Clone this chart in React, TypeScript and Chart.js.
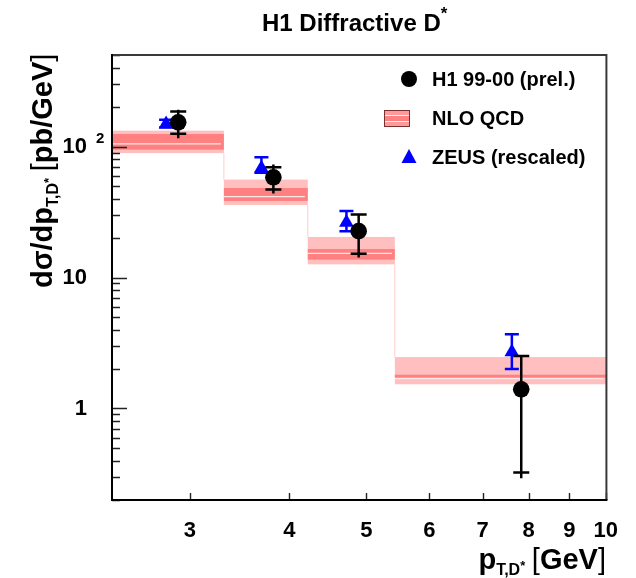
import React, { useEffect, useRef } from 'react';
import { Chart, registerables } from 'chart.js';

Chart.register(...registerables);

// ---------- axis ranges & ticks ----------
const X_MIN = 2.394;
const X_MAX = 10.02;
const Y_MIN = 0.2;
const Y_MAX = 500;
const X_TICKS = [3, 4, 5, 6, 7, 8, 9, 10];
const X_TICK_LABELS = ['3', '4', '5', '6', '7', '8', '9', '10'];
const Y_MAJOR = [1, 10, 100];
const Y_MAJOR_LABELS = ['1', '10', '10'];
const Y_MINOR = [0.2, 0.3, 0.4, 0.5, 0.6, 0.7, 0.8, 0.9, 2, 3, 4, 5, 6, 7, 8, 9, 20, 30, 40, 50, 60, 70, 80, 90, 200, 300, 400, 500];

// ---------- H1 99-00 (prel.) ----------
const H1_X = [2.90, 3.82, 4.89, 7.83];
const H1_Y = [153, 58.2, 22.6, 1.40];
const H1_STAT_HI = [185, 69.4, 30.3, 2.52];
const H1_STAT_LO = [125, 46.9, 15.2, 0.325];
const H1_TOT_HI = [191, 72.8, 30.8, 2.52];
const H1_TOT_LO = [115.5, 43.8, 14.2, 0.293];

// ---------- ZEUS (rescaled) ----------
const ZEUS_X = [2.80, 3.69, 4.72, 7.62];
const ZEUS_Y = [148.7, 68.4, 26.3, 2.70];
const ZEUS_HI = [160, 83.0, 32.2, 3.68];
const ZEUS_LO = [140, 63.2, 22.6, 2.00];

// ---------- NLO QCD band ----------
const NLO_EDGES = [2.0, 3.31, 4.22, 5.43, 10.02];
const NLO_OUT_HI = [132.2, 55.9, 20.4, 2.47];
const NLO_OUT_LO = [89.1, 35.8, 12.6, 1.53];
const NLO_IN_HI = [124.7, 48.2, 16.5, 1.81];
const NLO_IN_LO = [94.7, 38.4, 13.7, 1.72];
const NLO_CENTRAL = [104.7, 41.5, 15.3, 1.69];

const LEGEND_LABELS = ['H1 99-00 (prel.)', 'NLO QCD', 'ZEUS (rescaled)'];

const FONT = '"Liberation Sans", Arial, Helvetica, sans-serif';
const LIGHT = '#ffbfbf';
const DARK = '#ff8080';
const BLUE = '#0000ff';

type Run = { t: string; size: number; bold?: boolean; dy?: number };

function runsWidth(ctx: CanvasRenderingContext2D, runs: Run[]) {
  let w = 0;
  for (const r of runs) {
    ctx.font = `${r.bold === false ? '' : 'bold '}${r.size}px ${FONT}`;
    w += ctx.measureText(r.t).width;
  }
  return w;
}

function drawRuns(ctx: CanvasRenderingContext2D, runs: Run[], x: number, y: number) {
  let cx = x;
  ctx.textAlign = 'left';
  ctx.textBaseline = 'alphabetic';
  for (const r of runs) {
    ctx.font = `${r.bold === false ? '' : 'bold '}${r.size}px ${FONT}`;
    ctx.fillText(r.t, cx, y + (r.dy || 0));
    cx += ctx.measureText(r.t).width;
  }
}

const customPlugin = {
  id: 'h1custom',
  beforeDatasetsDraw(chart: any) {
    const { ctx, chartArea: ca, scales } = chart;
    const x = scales.x;
    const y = scales.y;
    ctx.save();
    ctx.beginPath();
    ctx.rect(ca.left, ca.top, ca.right - ca.left, ca.bottom - ca.top);
    ctx.clip();
    for (let i = 0; i < NLO_CENTRAL.length; i++) {
      const x0 = x.getPixelForValue(NLO_EDGES[i]);
      const x1 = x.getPixelForValue(NLO_EDGES[i + 1]);
      const oh = y.getPixelForValue(NLO_OUT_HI[i]);
      const ol = y.getPixelForValue(NLO_OUT_LO[i]);
      const ih = y.getPixelForValue(NLO_IN_HI[i]);
      const il = y.getPixelForValue(NLO_IN_LO[i]);
      const c = y.getPixelForValue(NLO_CENTRAL[i]);
      ctx.fillStyle = LIGHT;
      ctx.fillRect(x0, oh, x1 - x0, ol - oh);
      ctx.fillStyle = DARK;
      ctx.fillRect(x0, ih, x1 - x0, il - ih);
      ctx.strokeStyle = '#ffe8e8';
      ctx.lineWidth = 1.2;
      ctx.beginPath();
      ctx.moveTo(x0, c);
      ctx.lineTo(x1 - 3, c);
      ctx.stroke();
      if (i < NLO_CENTRAL.length - 1) {
        const nh = y.getPixelForValue(NLO_OUT_HI[i + 1]);
        ctx.strokeStyle = '#ffcccc';
        ctx.lineWidth = 1;
        ctx.beginPath();
        ctx.moveTo(x1, ol);
        ctx.lineTo(x1, nh);
        ctx.stroke();
      }
    }
    ctx.restore();
  },
  beforeDatasetDraw(chart: any, args: any) {
    const { ctx, scales } = chart;
    const x = scales.x;
    const y = scales.y;
    ctx.save();
    ctx.lineWidth = 2.5;
    ctx.lineCap = 'butt';
    if (args.index === 0) {
      ctx.strokeStyle = '#000';
      for (let i = 0; i < H1_X.length; i++) {
        const px = x.getPixelForValue(H1_X[i]);
        ctx.beginPath();
        ctx.moveTo(px, y.getPixelForValue(H1_TOT_HI[i]));
        ctx.lineTo(px, y.getPixelForValue(H1_TOT_LO[i]));
        for (const v of [H1_STAT_HI[i], H1_STAT_LO[i]]) {
          const py = y.getPixelForValue(v);
          ctx.moveTo(px - 8, py);
          ctx.lineTo(px + 8, py);
        }
        ctx.stroke();
      }
    } else {
      ctx.strokeStyle = BLUE;
      for (let i = 0; i < ZEUS_X.length; i++) {
        const px = x.getPixelForValue(ZEUS_X[i]);
        const ph = y.getPixelForValue(ZEUS_HI[i]);
        const pl = y.getPixelForValue(ZEUS_LO[i]);
        ctx.beginPath();
        ctx.moveTo(px, ph);
        ctx.lineTo(px, pl);
        ctx.moveTo(px - 7, ph);
        ctx.lineTo(px + 7, ph);
        ctx.moveTo(px - 7, pl);
        ctx.lineTo(px + 7, pl);
        ctx.stroke();
      }
    }
    ctx.restore();
  },
  afterDraw(chart: any) {
    const { ctx, chartArea: ca, scales } = chart;
    const x = scales.x;
    const y = scales.y;
    ctx.save();
    // ticks (inside)
    ctx.strokeStyle = '#222';
    ctx.lineWidth = 1.4;
    ctx.beginPath();
    for (const v of Y_MAJOR) {
      const py = Math.round(y.getPixelForValue(v)) + 0.5;
      ctx.moveTo(ca.left, py);
      ctx.lineTo(ca.left + 15, py);
    }
    for (const v of Y_MINOR) {
      const py = Math.round(y.getPixelForValue(v)) + 0.5;
      ctx.moveTo(ca.left, py);
      ctx.lineTo(ca.left + 8, py);
    }
    for (const v of X_TICKS) {
      const px = Math.round(x.getPixelForValue(v)) + 0.5;
      ctx.moveTo(px, ca.bottom);
      ctx.lineTo(px, ca.bottom - 7);
    }
    ctx.stroke();
    // frame
    ctx.lineWidth = 2;
    ctx.strokeStyle = '#3a3a3a';
    ctx.beginPath();
    ctx.moveTo(ca.left, ca.top);
    ctx.lineTo(ca.right, ca.top);
    ctx.lineTo(ca.right, ca.bottom);
    ctx.stroke();
    ctx.strokeStyle = '#000';
    ctx.beginPath();
    ctx.moveTo(ca.left, ca.top - 1);
    ctx.lineTo(ca.left, ca.bottom);
    ctx.lineTo(ca.right + 1, ca.bottom);
    ctx.stroke();

    ctx.fillStyle = '#000';
    // superscript of 10^2
    ctx.font = `bold 15px ${FONT}`;
    ctx.textAlign = 'left';
    ctx.textBaseline = 'alphabetic';
    ctx.fillText('2', 96, y.getPixelForValue(100) - 4);

    // title
    drawRuns(ctx, [
      { t: 'H1 Diffractive D', size: 24 },
      { t: '*', size: 17, dy: -12 },
    ], 262, 31);

    // x title
    const xRuns: Run[] = [
      { t: 'p', size: 29 },
      { t: 'T,D', size: 16, dy: 6 },
      { t: '*', size: 13, dy: 1 },
      { t: ' ', size: 24 },
      { t: '[', size: 29, bold: false },
      { t: 'GeV', size: 29 },
      { t: ']', size: 29, bold: false },
    ];
    drawRuns(ctx, xRuns, 606 - runsWidth(ctx, xRuns), 569);

    // y title (rotated)
    const yRuns: Run[] = [
      { t: 'd\u03c3/dp', size: 29 },
      { t: 'T,D', size: 16, dy: 6 },
      { t: '*', size: 13, dy: 1 },
      { t: ' ', size: 24 },
      { t: '[', size: 29, bold: false },
      { t: 'pb/GeV', size: 29 },
      { t: ']', size: 29, bold: false },
    ];
    ctx.save();
    ctx.translate(52, 288);
    ctx.rotate(-Math.PI / 2);
    drawRuns(ctx, yRuns, 0, 0);
    ctx.restore();

    // legend
    const lx = 409;
    const rows = [79, 118, 157];
    ctx.fillStyle = '#000';
    ctx.beginPath();
    ctx.arc(lx, rows[0], 8, 0, Math.PI * 2);
    ctx.fill();
    // NLO box
    const bx = 384, by = rows[1] - 8, bw = 26, bh = 17;
    ctx.fillStyle = '#ff9a9a';
    ctx.fillRect(bx, by, bw, bh);
    ctx.fillStyle = DARK;
    ctx.fillRect(bx, by + 6, bw, 5);
    ctx.strokeStyle = '#fff0f0';
    ctx.lineWidth = 1;
    ctx.beginPath();
    ctx.moveTo(bx + 1, by + 5.5);
    ctx.lineTo(bx + bw - 1, by + 5.5);
    ctx.moveTo(bx + 1, by + 11.5);
    ctx.lineTo(bx + bw - 1, by + 11.5);
    ctx.stroke();
    ctx.strokeStyle = '#7a3030';
    ctx.strokeRect(bx + 0.5, by + 0.5, bw - 1, bh - 1);
    // triangle
    ctx.fillStyle = BLUE;
    ctx.beginPath();
    ctx.moveTo(lx, rows[2] - 8);
    ctx.lineTo(lx + 7.5, rows[2] + 6);
    ctx.lineTo(lx - 7.5, rows[2] + 6);
    ctx.closePath();
    ctx.fill();

    ctx.fillStyle = '#000';
    ctx.font = `bold 20px ${FONT}`;
    ctx.textBaseline = 'middle';
    ctx.textAlign = 'left';
    LEGEND_LABELS.forEach((t, i) => ctx.fillText(t, 432, rows[i] + 1));
    ctx.restore();
  },
};

export default function App() {
  const ref = useRef<HTMLCanvasElement | null>(null);
  useEffect(() => {
    const canvas = ref.current;
    if (!canvas) return;
    const chart = new Chart(canvas, {
      type: 'scatter',
      data: {
        datasets: [
          {
            label: LEGEND_LABELS[0],
            data: H1_X.map((v, i) => ({ x: v, y: H1_Y[i] })),
            pointStyle: 'circle',
            pointRadius: 8.3,
            pointHoverRadius: 8.3,
            backgroundColor: '#000',
            borderColor: '#000',
            borderWidth: 0,
          },
          {
            label: LEGEND_LABELS[2],
            data: ZEUS_X.map((v, i) => ({ x: v, y: ZEUS_Y[i] })),
            pointStyle: 'triangle',
            pointRadius: 8.5,
            pointHoverRadius: 8.5,
            backgroundColor: BLUE,
            borderColor: BLUE,
            borderWidth: 0,
          },
        ],
      },
      options: {
        animation: false,
        responsive: false,
        devicePixelRatio: 1,
        events: [],
        layout: { padding: { top: 55, right: 29, left: 0, bottom: 0 } },
        plugins: {
          legend: { display: false },
          tooltip: { enabled: false },
          title: { display: false },
        },
        scales: {
          x: {
            type: 'logarithmic',
            min: X_MIN,
            max: X_MAX,
            position: 'bottom',
            afterBuildTicks: (s: any) => {
              s.ticks = X_TICKS.map((v) => ({ value: v }));
            },
            afterFit: (s: any) => {
              s.height = 78;
            },
            grid: { display: false, drawTicks: false },
            border: { display: false },
            ticks: {
              autoSkip: false,
              maxRotation: 0,
              padding: 18,
              color: '#000',
              font: { family: FONT, size: 22, weight: 'bold' },
              callback: (v: any) => X_TICK_LABELS[X_TICKS.indexOf(Number(v))] ?? '',
            },
          },
          y: {
            type: 'logarithmic',
            min: Y_MIN,
            max: Y_MAX,
            position: 'left',
            afterBuildTicks: (s: any) => {
              s.ticks = Y_MAJOR.map((v) => ({ value: v }));
            },
            afterFit: (s: any) => {
              s.width = 112;
            },
            grid: { display: false, drawTicks: false },
            border: { display: false },
            ticks: {
              autoSkip: false,
              padding: 25,
              color: '#000',
              font: { family: FONT, size: 22, weight: 'bold' },
              callback: (v: any) => Y_MAJOR_LABELS[Y_MAJOR.indexOf(Number(v))] ?? '',
            },
          },
        },
      },
      plugins: [customPlugin],
    } as any);
    return () => chart.destroy();
  }, []);
  return (
    <div style={{ position: 'absolute', left: 0, top: 0, width: 636, height: 578, background: '#fff' }}>
      <canvas ref={ref} width={636} height={578} style={{ display: 'block' }} />
    </div>
  );
}
